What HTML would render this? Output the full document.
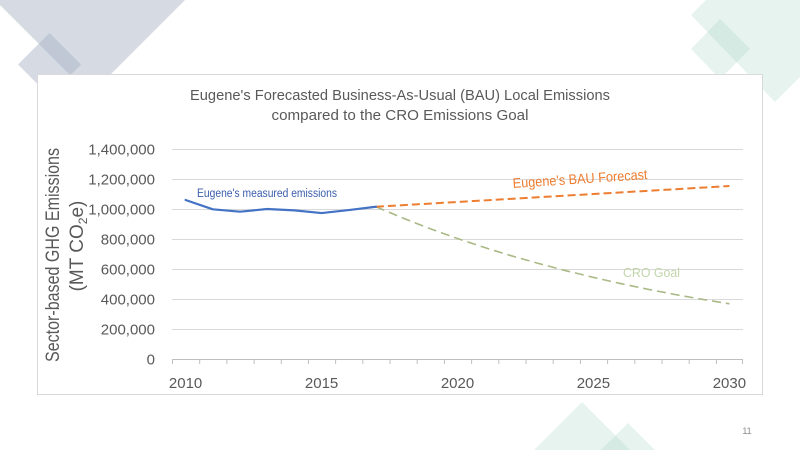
<!DOCTYPE html>
<html>
<head>
<meta charset="utf-8">
<style>
  html, body { margin: 0; padding: 0; background: #ffffff; }
  body { width: 800px; height: 450px; overflow: hidden; }
  svg { display: block; }
  text { font-family: "Liberation Sans", "DejaVu Sans", sans-serif; }
</style>
</head>
<body>
<svg width="800" height="450" viewBox="0 0 800 450" xmlns="http://www.w3.org/2000/svg">
  <rect x="0" y="0" width="800" height="450" fill="#ffffff"/>

  <!-- decorative shapes top-left -->
  <polygon points="0,0 185,0 90,95 0,5" fill="rgb(171,181,199)" fill-opacity="0.5"/>
  <polygon points="49.5,33 81,64.5 49.5,96 18,64.5" fill="rgb(171,181,199)" fill-opacity="0.5"/>

  <!-- decorative shapes top-right -->
  <polygon points="706,0 691,15 775,102 800,77 800,0" fill="rgb(160,208,190)" fill-opacity="0.25"/>
  <polygon points="720,19 750,49 720,79 691,49" fill="rgb(160,208,190)" fill-opacity="0.25"/>

  <!-- decorative shapes bottom -->
  <polygon points="582,402 630,450 534,450" fill="rgb(160,208,190)" fill-opacity="0.25"/>
  <polygon points="628,423 655,450 601,450" fill="rgb(160,208,190)" fill-opacity="0.25"/>

  <!-- page number -->
  <text x="747" y="434" font-size="9" fill="#8c8c8c" text-anchor="middle">11</text>

  <!-- chart box -->
  <rect x="37.5" y="74.5" width="725" height="320" fill="#ffffff" stroke="#d9d9d9" stroke-width="1"/>

  <!-- title -->
  <text x="400" y="100" font-size="15" fill="#595959" text-anchor="middle" textLength="420" lengthAdjust="spacingAndGlyphs">Eugene's Forecasted Business-As-Usual (BAU) Local Emissions</text>
  <text x="400" y="120" font-size="15" fill="#595959" text-anchor="middle" textLength="257" lengthAdjust="spacingAndGlyphs">compared to the CRO Emissions Goal</text>

  <!-- gridlines -->
  <g stroke="#d9d9d9" stroke-width="1">
    <line x1="172" y1="149.5" x2="743" y2="149.5"/>
    <line x1="172" y1="179.5" x2="743" y2="179.5"/>
    <line x1="172" y1="209.5" x2="743" y2="209.5"/>
    <line x1="172" y1="239.5" x2="743" y2="239.5"/>
    <line x1="172" y1="269.5" x2="743" y2="269.5"/>
    <line x1="172" y1="299.5" x2="743" y2="299.5"/>
    <line x1="172" y1="329.5" x2="743" y2="329.5"/>
  </g>
  <!-- x axis -->
  <line x1="172" y1="359.5" x2="743" y2="359.5" stroke="#bfbfbf" stroke-width="1"/>
  <g stroke="#bfbfbf" stroke-width="1">
    <line x1="172.5" y1="359" x2="172.5" y2="364"/>
    <line x1="199.7" y1="359" x2="199.7" y2="364"/>
    <line x1="226.9" y1="359" x2="226.9" y2="364"/>
    <line x1="254.1" y1="359" x2="254.1" y2="364"/>
    <line x1="281.3" y1="359" x2="281.3" y2="364"/>
    <line x1="308.4" y1="359" x2="308.4" y2="364"/>
    <line x1="335.6" y1="359" x2="335.6" y2="364"/>
    <line x1="362.8" y1="359" x2="362.8" y2="364"/>
    <line x1="390.0" y1="359" x2="390.0" y2="364"/>
    <line x1="417.2" y1="359" x2="417.2" y2="364"/>
    <line x1="444.4" y1="359" x2="444.4" y2="364"/>
    <line x1="471.6" y1="359" x2="471.6" y2="364"/>
    <line x1="498.8" y1="359" x2="498.8" y2="364"/>
    <line x1="526.0" y1="359" x2="526.0" y2="364"/>
    <line x1="553.2" y1="359" x2="553.2" y2="364"/>
    <line x1="580.4" y1="359" x2="580.4" y2="364"/>
    <line x1="607.6" y1="359" x2="607.6" y2="364"/>
    <line x1="634.8" y1="359" x2="634.8" y2="364"/>
    <line x1="662.0" y1="359" x2="662.0" y2="364"/>
    <line x1="689.2" y1="359" x2="689.2" y2="364"/>
    <line x1="716.4" y1="359" x2="716.4" y2="364"/>
    <line x1="742.5" y1="359" x2="742.5" y2="364"/>
  </g>

  <!-- y tick labels -->
  <g font-size="15" fill="#595959" text-anchor="end">
    <text x="155" y="154.5">1,400,000</text>
    <text x="155" y="184.5">1,200,000</text>
    <text x="155" y="214.5">1,000,000</text>
    <text x="155" y="244.5">800,000</text>
    <text x="155" y="274.5">600,000</text>
    <text x="155" y="304.5">400,000</text>
    <text x="155" y="334.5">200,000</text>
    <text x="155" y="364.5">0</text>
  </g>

  <!-- x tick labels -->
  <g font-size="15" fill="#595959" text-anchor="middle">
    <text x="185.6" y="388">2010</text>
    <text x="321.6" y="388">2015</text>
    <text x="457.5" y="388">2020</text>
    <text x="593.4" y="388">2025</text>
    <text x="729.4" y="388">2030</text>
  </g>

  <!-- y axis title -->
  <text transform="translate(59,255) rotate(-90)" font-size="19" fill="#595959" text-anchor="middle" textLength="214" lengthAdjust="spacingAndGlyphs">Sector-based GHG Emissions</text>
  <text transform="translate(83,246) rotate(-90)" font-size="19" fill="#595959" text-anchor="middle">(MT CO<tspan font-size="12" baseline-shift="-4">2</tspan>e)</text>

  <!-- CRO goal (green dashed) -->
  <polyline fill="none" stroke="#a9b985" stroke-width="1.6" stroke-dasharray="9,5"
    points="375.9,206.75 403.1,218.15 430.3,228.8 457.5,238.55 484.7,247.55 511.9,255.95 539.1,263.6 566.3,270.8 593.4,277.4 620.6,283.55 647.8,289.25 675.0,294.5 702.2,299.3 729.4,303.8"/>

  <!-- BAU forecast (orange dashed) -->
  <line x1="375.9" y1="206.75" x2="729.4" y2="186.05" stroke="#ed7d31" stroke-width="2" stroke-dasharray="8,4"/>

  <!-- measured emissions (blue) -->
  <polyline fill="none" stroke="#4472c4" stroke-width="2.2" stroke-linejoin="round" stroke-linecap="round"
    points="185.6,200 212.8,209.3 240.0,211.7 267.2,209 294.4,210.35 321.6,213.05 348.8,210.05 375.9,206.75"/>

  <!-- series labels -->
  <text x="197" y="197" font-size="11.5" fill="#3a5eac" textLength="140" lengthAdjust="spacingAndGlyphs">Eugene's measured emissions</text>
  <text transform="translate(513,188) rotate(-3.8)" font-size="14" fill="#ed7d31" textLength="135" lengthAdjust="spacingAndGlyphs">Eugene's BAU Forecast</text>
  <text x="623" y="277" font-size="13" fill="#c2d6ab" textLength="57" lengthAdjust="spacingAndGlyphs">CRO Goal</text>
</svg>
</body>
</html>
